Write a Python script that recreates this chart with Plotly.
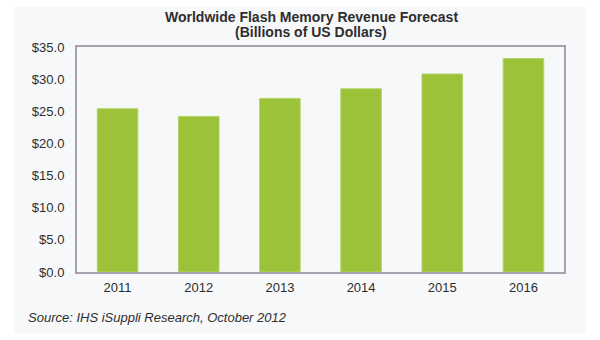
import plotly.graph_objects as go

years = ["2011", "2012", "2013", "2014", "2015", "2016"]
revenue = [25.4, 24.2, 27.0, 28.5, 30.8, 33.2]
y_ticks = [0, 5, 10, 15, 20, 25, 30, 35]

title_line1 = "Worldwide Flash Memory Revenue Forecast"
title_line2 = "(Billions of US Dollars)"
source_text = "Source: IHS iSuppli Research, October 2012"

W, H = 600, 340
ml, mr, mt, mb = 77, 36, 47, 68
pw = W - ml - mr
ph = H - mt - mb

def px_x(x):
    return (x - ml) / pw

def px_y(y):
    return 1 - (y - mt) / ph

font_family = "Liberation Sans, Arial, sans-serif"
panel_color = "#f7f8f9"
text_color = "#2e2e2e"

fig = go.Figure()
fig.add_trace(go.Bar(
    x=years,
    y=revenue,
    marker=dict(color="#9cc23a", line=dict(color="#b4d46a", width=1)),
    hoverinfo="x+y",
))

fig.update_layout(
    width=W, height=H,
    margin=dict(l=ml, r=mr, t=mt, b=mb, pad=0),
    paper_bgcolor="white",
    plot_bgcolor=panel_color,
    bargap=0.5,
    showlegend=False,
    font=dict(family=font_family, size=13, color=text_color),
    xaxis=dict(
        showline=True, linecolor="#a3a3ae", linewidth=2, mirror=True,
        showgrid=False, ticks="", ticklabelstandoff=2,
        tickfont=dict(size=13, color=text_color),
    ),
    yaxis=dict(
        range=[0, 35], tickvals=y_ticks, tickformat="$.1f",
        showline=True, linecolor="#a3a3ae", linewidth=2, mirror=True,
        showgrid=False, zeroline=False, ticks="", ticklabelstandoff=8,
        tickfont=dict(size=13, color=text_color),
    ),
    shapes=[dict(
        type="rect", xref="paper", yref="paper", layer="below",
        x0=px_x(14), x1=px_x(586), y0=px_y(333), y1=px_y(7),
        fillcolor=panel_color, line=dict(width=0),
    )],
    annotations=[
        dict(text="<b>" + title_line1 + "</b>", xref="paper", yref="paper",
             x=px_x(311), y=px_y(17.5), xanchor="center", yanchor="middle",
             showarrow=False, borderpad=0,
             font=dict(size=14, color=text_color, family=font_family)),
        dict(text="<b>" + title_line2 + "</b>", xref="paper", yref="paper",
             x=px_x(311), y=px_y(32.5), xanchor="center", yanchor="middle",
             showarrow=False, borderpad=0,
             font=dict(size=14, color=text_color, family=font_family)),
        dict(text="<i>" + source_text + "</i>", xref="paper", yref="paper",
             x=px_x(26), y=px_y(317.5), xanchor="left", yanchor="middle",
             showarrow=False,
             font=dict(size=13, color=text_color, family=font_family)),
    ],
)

fig.write_html("out.html")
